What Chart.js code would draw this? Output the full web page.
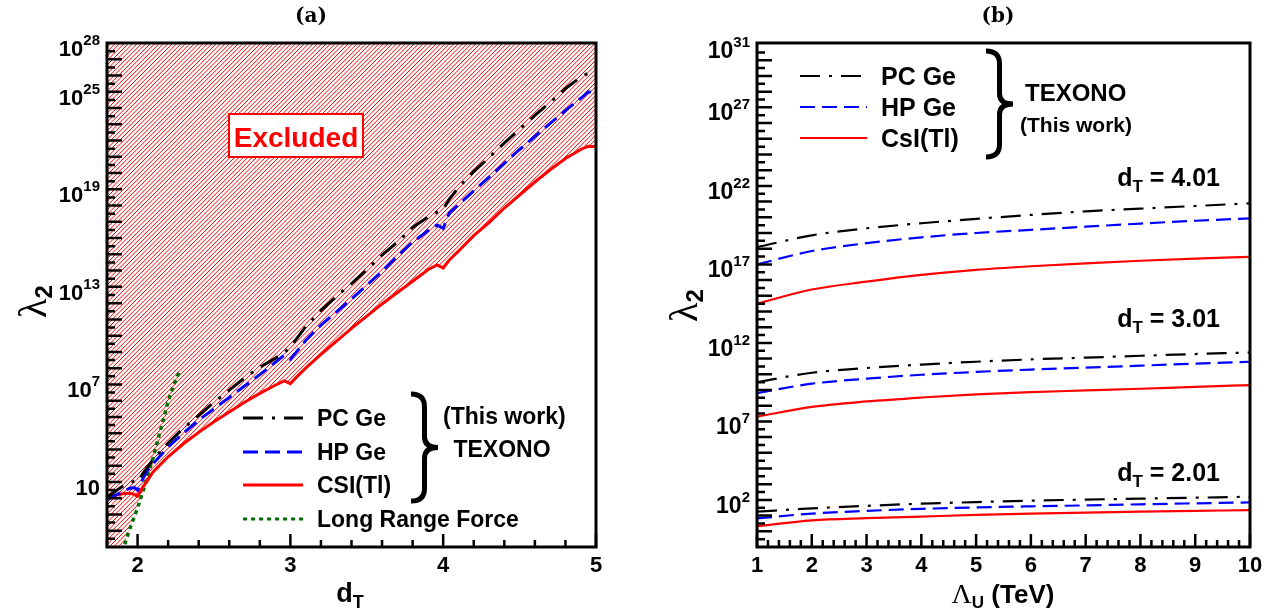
<!DOCTYPE html>
<html>
<head>
<meta charset="utf-8">
<script src="https://cdn.jsdelivr.net/npm/chart.js@4/dist/chart.umd.min.js"></script>
<style>
  html, body { margin: 0; padding: 0; background: #fff; }
  #wrap { position: relative; width: 1287px; height: 616px; }
  .pane { position: absolute; top: 0; height: 616px; }
</style>
</head>
<body>
<div id="wrap">
  <div class="pane" style="left:0;width:640px"><canvas id="chartA"></canvas></div>
  <div class="pane" style="left:640px;width:647px"><canvas id="chartB"></canvas></div>
</div>
<script>
// ---- panel (a): lambda_2 limits vs d_T (values are log10 of lambda_2) ----
const dT = [1.8, 1.85, 1.9, 1.95, 1.98, 2.0, 2.03, 2.06, 2.1, 2.2, 2.3, 2.4, 2.5, 2.6, 2.7, 2.8, 2.9,
  2.96, 3.0, 3.04, 3.1, 3.2, 3.3, 3.4, 3.5, 3.6, 3.7, 3.8, 3.9, 3.96, 4.0, 4.04, 4.1, 4.2, 4.3, 4.4,
  4.5, 4.6, 4.7, 4.8, 4.9, 4.95, 5.0];
const pcGeA = [0.05, 0.4, 0.72, 0.95, 1.05, 1.0, 1.45, 1.85, 2.35, 3.4, 4.3, 5.1, 5.9, 6.65, 7.4, 8.05, 8.6,
  8.95, 9.3, 9.8, 10.55, 11.55, 12.4, 13.2, 14.05, 14.95, 15.75, 16.65, 17.3, 17.6, 17.75, 18.4, 19.1, 20.1,
  20.95, 21.85, 22.7, 23.55, 24.35, 25.2, 25.9, 26.15, 26.4];
const hpGeA = [-0.1, 0.15, 0.4, 0.62, 0.65, 0.5, 1.1, 1.65, 2.1, 3.15, 4.0, 4.8, 5.5, 6.2, 6.9, 7.6, 8.35,
  8.8, 8.55, 9.0, 9.7, 10.65, 11.45, 12.25, 13.1, 13.95, 14.9, 15.75, 16.45, 16.8, 16.6, 17.55, 18.05, 18.9,
  19.75, 20.6, 21.45, 22.25, 23.05, 23.85, 24.6, 25.0, 24.9];
const csiA = [0.0, 0.17, 0.28, 0.31, 0.22, 0.12, 0.62, 1.02, 1.6, 2.55, 3.35, 4.05, 4.7, 5.3, 5.9, 6.45, 6.95,
  7.22, 7.05, 7.45, 8.0, 8.85, 9.65, 10.45, 11.2, 11.95, 12.65, 13.35, 14.05, 14.35, 14.15, 14.65, 15.2, 16.15,
  16.95, 17.85, 18.65, 19.45, 20.2, 20.9, 21.45, 21.65, 21.62];
const lrfD = [1.9, 1.95, 2.0, 2.05, 2.1, 2.15, 2.2, 2.25, 2.28];
const lrfA = [-3.3, -1.85, -0.6, 0.85, 2.45, 4.2, 5.95, 7.3, 7.9];
// lower edge of the hatched region left of the CsI curve
const edgeD = [1.8, 1.905, 1.95, 2.0, 2.05, 2.06];
const edgeA = [-3, -3, -1.85, -0.6, 0.85, 1.02];
const xLabelsA = [2, 3, 4, 5];
const yLabelsA = [28, 25, 19, 13, 7, 1];

// ---- panel (b): lambda_2 limits vs Lambda_U (TeV) ----
const lambdaU = [1, 2, 3, 4, 5, 6, 7, 8, 9, 10];
const pcGe401 = [18.1, 18.85, 19.3, 19.62, 19.9, 20.15, 20.38, 20.55, 20.72, 20.89];
const hpGe401 = [17.0, 17.85, 18.35, 18.72, 19.0, 19.2, 19.4, 19.6, 19.78, 19.93];
const csi401 = [14.5, 15.4, 15.9, 16.33, 16.65, 16.88, 17.07, 17.23, 17.37, 17.48];
const pcGe301 = [9.5, 10.1, 10.4, 10.62, 10.8, 10.95, 11.06, 11.18, 11.29, 11.39];
const hpGe301 = [8.8, 9.4, 9.72, 9.97, 10.15, 10.3, 10.42, 10.55, 10.68, 10.8];
const csi301 = [7.3, 7.92, 8.27, 8.52, 8.72, 8.86, 8.97, 9.08, 9.2, 9.31];
const pcGe201 = [1.25, 1.46, 1.62, 1.76, 1.86, 1.95, 2.02, 2.08, 2.14, 2.2];
const hpGe201 = [0.82, 1.13, 1.3, 1.43, 1.52, 1.59, 1.65, 1.72, 1.78, 1.84];
const csi201 = [0.33, 0.7, 0.84, 0.94, 1.04, 1.12, 1.19, 1.25, 1.3, 1.35];
const xLabelsB = [1, 2, 3, 4, 5, 6, 7, 8, 9, 10];
const yLabelsB = [31, 27, 22, 17, 12, 7, 2];

const SANS = '"Liberation Sans", Arial, sans-serif';
const SERIF = '"Liberation Serif", "DejaVu Serif", serif';
const BLACK_DASH = [20, 9, 3, 9];
const BLUE_DASH = [15, 7];

function pts(xs, exps) {
  return xs.map((x, i) => ({ x: x, y: Math.pow(10, exps[i]) }));
}

// draw a row of text pieces with their own fonts and vertical shifts
function rich(ctx, parts, x, y, align) {
  let w = 0;
  parts.forEach(p => { ctx.font = p.f; p.w = ctx.measureText(p.t).width; w += p.w; });
  let cx = align === 'right' ? x - w : align === 'center' ? x - w / 2 : x;
  ctx.textAlign = 'left';
  ctx.textBaseline = 'alphabetic';
  parts.forEach(p => { ctx.font = p.f; ctx.fillText(p.t, cx, y + (p.dy || 0)); cx += p.w; });
}

function brace(ctx, x0, y0, y1, w) {
  const ym = (y0 + y1) / 2, xs = x0 + w * 0.5, h = y1 - y0;
  ctx.beginPath();
  ctx.moveTo(x0, y0);
  ctx.quadraticCurveTo(xs, y0, xs, y0 + h * 0.12);
  ctx.lineTo(xs, ym - h * 0.1);
  ctx.quadraticCurveTo(xs, ym, x0 + w, ym);
  ctx.quadraticCurveTo(xs, ym, xs, ym + h * 0.1);
  ctx.lineTo(xs, y1 - h * 0.12);
  ctx.quadraticCurveTo(xs, y1, x0, y1);
  ctx.stroke();
}

// frame, inward ticks and tick labels, placed with the chart's own scales
function drawAxes(chart, o) {
  const ctx = chart.ctx, a = chart.chartArea, xs = chart.scales.x, ys = chart.scales.y;
  ctx.save();
  ctx.strokeStyle = '#000';
  ctx.lineWidth = 3;
  ctx.strokeRect(a.left, a.top, a.right - a.left, a.bottom - a.top);
  ctx.lineWidth = 2.5;
  ctx.beginPath();
  for (let k = 0; ; k++) {
    const v = o.xMin + k * 0.2;
    if (v > o.xMax + 1e-6) break;
    const px = xs.getPixelForValue(v);
    const major = Math.abs(v - Math.round(v)) < 1e-6;
    ctx.moveTo(px, a.bottom);
    ctx.lineTo(px, a.bottom - (major ? 13 : 7));
  }
  for (let e = o.yMin; e <= o.yMax; e += 0.5) {
    const py = ys.getPixelForValue(Math.pow(10, e));
    if (py < a.top + 2 || py > a.bottom - 2) continue;
    ctx.moveTo(a.left, py);
    ctx.lineTo(a.left + (Number.isInteger(e) ? 15 : 8), py);
  }
  ctx.stroke();
  ctx.fillStyle = '#000';
  o.xLabels.forEach(v => {
    rich(ctx, [{ t: String(v), f: 'bold 22px ' + SANS }], xs.getPixelForValue(v), 572, 'center');
  });
  o.yLabels.forEach(e => {
    const py = ys.getPixelForValue(Math.pow(10, e));
    const parts = [{ t: '10', f: 'bold ' + o.yFont + 'px ' + SANS }];
    if (e !== 1) parts.push({ t: String(e), f: 'bold 15px ' + SANS, dy: -11 });
    rich(ctx, parts, a.left - 7, py + 13, 'right');
  });
  ctx.restore();
}

const decorA = {
  id: 'decorA',
  beforeDatasetsDraw(chart) {
    // red hatching above the exclusion edge (dataset 4), using its pixel positions
    const ctx = chart.ctx, a = chart.chartArea;
    const edge = chart.getDatasetMeta(4).data;
    ctx.save();
    ctx.beginPath();
    ctx.rect(a.left, a.top, a.right - a.left, a.bottom - a.top);
    ctx.clip();
    ctx.beginPath();
    edge.forEach((p, i) => i ? ctx.lineTo(p.x, Math.min(p.y, a.bottom)) : ctx.moveTo(p.x, Math.min(p.y, a.bottom)));
    ctx.lineTo(a.right, a.top);
    ctx.lineTo(a.left, a.top);
    ctx.closePath();
    ctx.clip();
    ctx.strokeStyle = '#ff0000';
    ctx.lineWidth = 1;
    ctx.beginPath();
    for (let c = a.left + a.top; c <= a.right + a.bottom; c += 4.4) {
      ctx.moveTo(c - a.bottom, a.bottom);
      ctx.lineTo(c - a.top, a.top);
    }
    ctx.stroke();
    ctx.restore();
  },
  afterDatasetsDraw(chart) {
    const ctx = chart.ctx;
    ctx.save();
    // Excluded box
    ctx.fillStyle = '#fff';
    ctx.fillRect(229, 114, 134, 43);
    ctx.strokeStyle = '#ff0000';
    ctx.lineWidth = 2;
    ctx.strokeRect(229, 114, 134, 43);
    ctx.fillStyle = '#ff0000';
    rich(ctx, [{ t: 'Excluded', f: 'bold 28px ' + SANS }], 296, 147, 'center');
    ctx.restore();
  },
  afterDraw(chart) {
    drawAxes(chart, { xMin: 1.8, xMax: 5, yMin: -3, yMax: 28, xLabels: xLabelsA, yLabels: yLabelsA, yFont: 22 });
    const ctx = chart.ctx;
    ctx.save();
    ctx.fillStyle = '#000';
    rich(ctx, [{ t: '(a)', f: 'bold 20px "DejaVu Serif", serif' }], 311, 22, 'center');
    // legend
    const rows = [
      { y: 418, t: 'PC Ge', c: '#000', d: BLACK_DASH },
      { y: 452, t: 'HP Ge', c: '#0000ff', d: BLUE_DASH },
      { y: 485, t: 'CSI(Tl)', c: '#ff0000', d: [] },
      { y: 519, t: 'Long Range Force', c: '#007000', d: [4, 4] }
    ];
    rows.forEach(r => {
      ctx.strokeStyle = r.c;
      ctx.lineWidth = 3;
      ctx.setLineDash(r.d);
      ctx.beginPath();
      ctx.moveTo(243, r.y); ctx.lineTo(303, r.y);
      ctx.stroke();
      ctx.setLineDash([]);
      ctx.fillStyle = '#000';
      rich(ctx, [{ t: r.t, f: 'bold 23px ' + SANS }], 317, r.y + 8, 'left');
    });
    ctx.strokeStyle = '#000';
    ctx.lineWidth = 5;
    brace(ctx, 411, 394, 501, 27);
    rich(ctx, [{ t: '(This work)', f: 'bold 23px ' + SANS }], 443, 424, 'left');
    rich(ctx, [{ t: 'TEXONO', f: 'bold 23px ' + SANS }], 502, 457, 'center');
    // axis titles
    rich(ctx, [{ t: 'd', f: 'bold 27px ' + SANS }, { t: 'T', f: 'bold 18px ' + SANS, dy: 6 }], 350, 602, 'center');
    ctx.translate(46, 318);
    ctx.rotate(-Math.PI / 2);
    rich(ctx, [{ t: 'λ', f: '40px ' + SERIF }, { t: '2', f: 'bold 24px ' + SANS, dy: 6 }], 0, 0, 'left');
    ctx.restore();
  }
};

const decorB = {
  id: 'decorB',
  afterDraw(chart) {
    drawAxes(chart, { xMin: 1, xMax: 10, yMin: -1, yMax: 31, xLabels: xLabelsB, yLabels: yLabelsB, yFont: 23 });
    const ctx = chart.ctx;
    ctx.save();
    ctx.translate(-640, 0);
    ctx.fillStyle = '#000';
    rich(ctx, [{ t: '(b)', f: 'bold 20px "DejaVu Serif", serif' }], 998, 22, 'center');
    const rows = [
      { y: 76, t: 'PC Ge', c: '#000', d: BLACK_DASH },
      { y: 107, t: 'HP Ge', c: '#0000ff', d: BLUE_DASH },
      { y: 138, t: 'CsI(Tl)', c: '#ff0000', d: [] }
    ];
    rows.forEach(r => {
      ctx.strokeStyle = r.c;
      ctx.lineWidth = 2.2;
      ctx.setLineDash(r.d);
      ctx.beginPath();
      ctx.moveTo(800, r.y); ctx.lineTo(867, r.y);
      ctx.stroke();
      ctx.setLineDash([]);
      ctx.fillStyle = '#000';
      rich(ctx, [{ t: r.t, f: 'bold 25px ' + SANS }], 881, r.y + 9, 'left');
    });
    ctx.strokeStyle = '#000';
    ctx.lineWidth = 5;
    brace(ctx, 986, 51, 157, 27);
    rich(ctx, [{ t: 'TEXONO', f: 'bold 24px ' + SANS }], 1025, 101, 'left');
    rich(ctx, [{ t: '(This work)', f: 'bold 21px ' + SANS }], 1020, 132, 'left');
    [[4.01, 186], [3.01, 327], [2.01, 481]].forEach(([d, y]) => {
      rich(ctx, [
        { t: 'd', f: 'bold 25px ' + SANS },
        { t: 'T', f: 'bold 17px ' + SANS, dy: 6 },
        { t: ' = ' + d.toFixed(2), f: 'bold 25px ' + SANS }
      ], 1220, y, 'right');
    });
    rich(ctx, [
      { t: 'Λ', f: '28px ' + SERIF },
      { t: 'U', f: 'bold 17px ' + SANS, dy: 5 },
      { t: ' (TeV)', f: 'bold 26px ' + SANS }
    ], 1003, 603, 'center');
    ctx.translate(697, 322);
    ctx.rotate(-Math.PI / 2);
    rich(ctx, [{ t: 'λ', f: '40px ' + SERIF }, { t: '2', f: 'bold 24px ' + SANS, dy: 6 }], 0, 0, 'left');
    ctx.restore();
  }
};

function line(label, data, color, dash, width) {
  return {
    label: label, data: data, borderColor: color, borderDash: dash, borderWidth: width,
    pointRadius: 0, fill: false, tension: 0
  };
}

new Chart(document.getElementById('chartA'), {
  type: 'line',
  data: {
    datasets: [
      line('PC Ge', pts(dT, pcGeA), '#000', BLACK_DASH, 3),
      line('HP Ge', pts(dT, hpGeA), '#0000ff', BLUE_DASH, 3),
      line('CSI(Tl)', pts(dT, csiA), '#ff0000', [], 3),
      line('Long Range Force', pts(lrfD, lrfA), '#007000', [4, 4], 3.5),
      {
        label: 'Excluded',
        data: pts(edgeD, edgeA).concat(pts(dT.slice(8), csiA.slice(8))),
        showLine: false, pointRadius: 0, borderWidth: 0, fill: false
      }
    ]
  },
  options: {
    responsive: true, maintainAspectRatio: false, animation: false,
    layout: { padding: { left: 107, right: 44, top: 43, bottom: 69 } },
    plugins: { legend: { display: false }, tooltip: { enabled: false } },
    scales: {
      x: { type: 'linear', min: 1.8, max: 5, display: false },
      y: { type: 'logarithmic', min: 1e-3, max: 1e28, display: false }
    }
  },
  plugins: [decorA]
});

const groupsB = [[pcGe401, hpGe401, csi401], [pcGe301, hpGe301, csi301], [pcGe201, hpGe201, csi201]];
const datasetsB = [];
groupsB.forEach(g => {
  datasetsB.push(line('PC Ge', pts(lambdaU, g[0]), '#000', BLACK_DASH, 2.2));
  datasetsB.push(line('HP Ge', pts(lambdaU, g[1]), '#0000ff', BLUE_DASH, 2.2));
  datasetsB.push(line('CsI(Tl)', pts(lambdaU, g[2]), '#ff0000', [], 2.2));
});
datasetsB.forEach(ds => { ds.cubicInterpolationMode = 'monotone'; });

new Chart(document.getElementById('chartB'), {
  type: 'line',
  data: { datasets: datasetsB },
  options: {
    responsive: true, maintainAspectRatio: false, animation: false,
    layout: { padding: { left: 117, right: 37, top: 43, bottom: 69 } },
    plugins: { legend: { display: false }, tooltip: { enabled: false } },
    scales: {
      x: { type: 'linear', min: 1, max: 10, display: false },
      y: { type: 'logarithmic', min: 1e-1, max: Math.pow(10, 31.1), display: false }
    }
  },
  plugins: [decorB]
});
</script>
</body>
</html>
